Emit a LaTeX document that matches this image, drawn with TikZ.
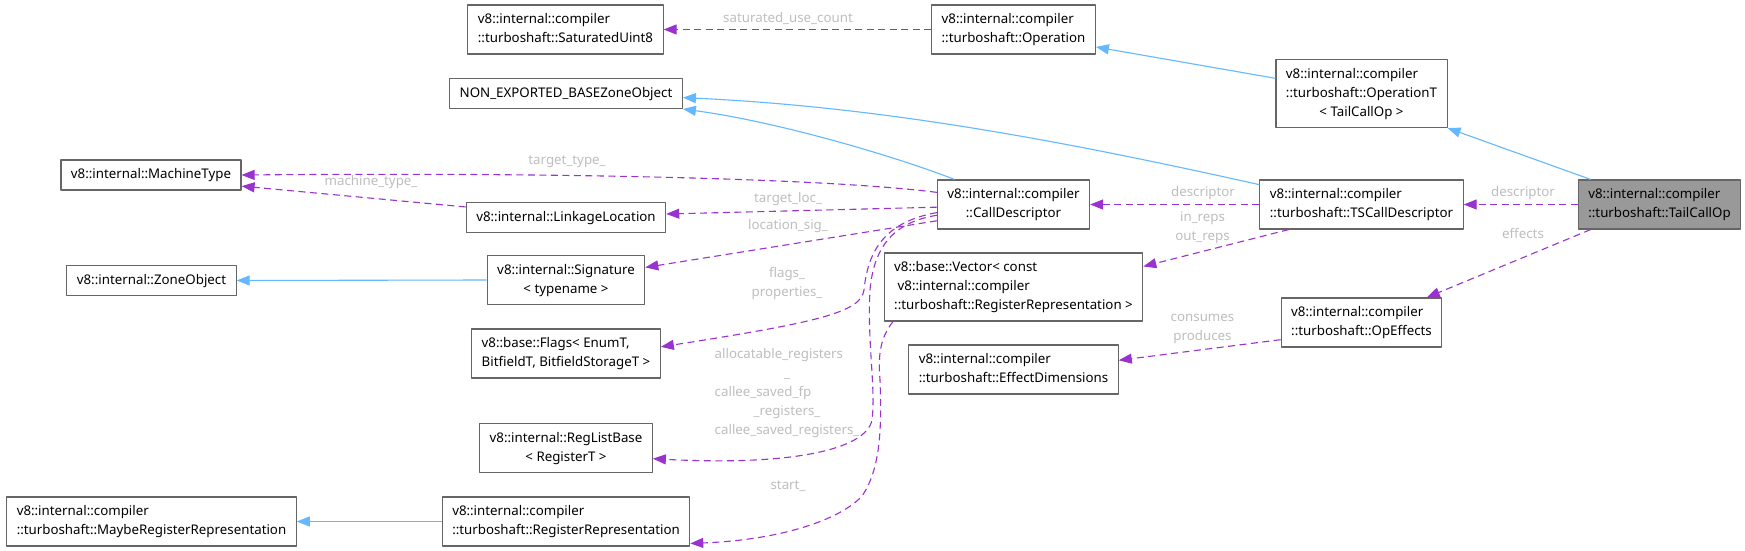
\documentclass[tikz,border=0pt]{standalone}
\usepackage{fontspec}
\setmainfont{Noto Sans}
\usetikzlibrary{arrows.meta}
\definecolor{dxpurple}{HTML}{9A32CD}
\definecolor{dxblue}{HTML}{63B8FF}
\definecolor{dxborder}{HTML}{666666}
\definecolor{dxlabel}{HTML}{BEBEBE}
\definecolor{dxfocus}{HTML}{999999}
\newcommand{\clsbox}[1]{\begin{tabular}{@{}l@{}}#1\end{tabular}}
\newcommand{\clsmid}[1]{\multicolumn{1}{@{}c@{}}{#1}}

\begin{document}
\begin{tikzpicture}[x=1pt, y=-1pt, line join=round,
  every node/.style={font=\fontsize{13.3}{19}\selectfont},
  cls/.style={draw=dxborder, line width=1.1pt, fill=white,
    inner xsep=10pt, inner ysep=5.5pt},
  focus/.style={cls, fill=dxfocus},
  lbl/.style={text=dxlabel, inner sep=0pt},
  uses/.style={draw=dxpurple, line width=1.1pt,
    dash pattern=on 7pt off 4.5pt, -{Triangle[length=13pt,width=10pt]}},
  isa/.style={draw=dxblue, line width=1.1pt,
    -{Triangle[length=13pt,width=10pt]}}]
  \path[use as bounding box] (0,0) rectangle (1745,551);
  \fill[white] (0,0) rectangle (1745,551);
  % grid in pixels of the reference: x to the right, y downwards
  \node[cls] (satuint) at (565.5,29.5)
    {\clsbox{v8::internal::compiler\\::turboshaft::SaturatedUint8}};
  \node[cls] (nonexp) at (566,93.5) {\clsbox{NON\_EXPORTED\_BASEZoneObject}};
  \node[cls] (machtype) at (151,175) {\clsbox{v8::internal::MachineType}};
  \node[cls] (linkloc) at (566,217.5) {\clsbox{v8::internal::LinkageLocation}};
  \node[cls] (signature) at (566,280)
    {\clsbox{v8::internal::Signature\\\clsmid{< typename >}}};
  \node[cls] (zoneobj) at (151.5,280.5) {\clsbox{v8::internal::ZoneObject}};
  \node[cls] (flags) at (566,353.5)
    {\clsbox{v8::base::Flags< EnumT,\\\clsmid{BitfieldT, BitfieldStorageT >}}};
  \node[cls] (reglist) at (566,448)
    {\clsbox{v8::internal::RegListBase\\\clsmid{< RegisterT >}}};
  \node[cls] (mayberep) at (151.5,521.5)
    {\clsbox{v8::internal::compiler\\::turboshaft::MaybeRegisterRepresentation}};
  \node[cls] (regrep) at (566,521.5)
    {\clsbox{v8::internal::compiler\\::turboshaft::RegisterRepresentation}};
  \node[cls] (opbase) at (1013.5,29.5)
    {\clsbox{v8::internal::compiler\\::turboshaft::Operation}};
  \node[cls] (calldesc) at (1013.5,204.5)
    {\clsbox{v8::internal::compiler\\\clsmid{::CallDescriptor}}};
  \node[cls] (vector) at (1013.5,287)
    {\clsbox{v8::base::Vector< const\\\ v8::internal::compiler\\::turboshaft::RegisterRepresentation >}};
  \node[cls] (effdim) at (1013.5,369.5)
    {\clsbox{v8::internal::compiler\\::turboshaft::EffectDimensions}};
  \node[cls] (opT) at (1361.5,93.5)
    {\clsbox{v8::internal::compiler\\::turboshaft::OperationT\\\clsmid{< TailCallOp >}}};
  \node[cls] (tscall) at (1361.5,204.5)
    {\clsbox{v8::internal::compiler\\::turboshaft::TSCallDescriptor}};
  \node[cls] (opeff) at (1361.5,322.5)
    {\clsbox{v8::internal::compiler\\::turboshaft::OpEffects}};
  \node[focus] (tailcall) at (1659.5,204.5)
    {\clsbox{v8::internal::compiler\\::turboshaft::TailCallOp}};
  % inheritance
  \draw[isa] (opT.170) -- (opbase.-12);
  \draw[isa] (tailcall.160) -- (opT.south east);
  \draw[isa] (tscall.169) .. controls (1059,140) and (882,107) .. (nonexp.-2);
  \draw[isa] (calldesc.157) .. controls (900,158) and (780,122)
    .. (nonexp.south east);
  \draw[isa] (signature.west) -- (zoneobj.east);
  \draw[isa] (regrep.west) -- (mayberep.east);
  % members
  \draw[uses] (opbase.west) -- (satuint.east);
  \draw[uses] (tailcall.west) -- (tscall.east);
  \draw[uses] (tailcall.200) -- (opeff.21);
  \draw[uses] (tscall.west) -- (calldesc.east);
  \draw[uses] (tscall.199) -- (vector.9);
  \draw[uses] (opeff.192) -- (effdim.5);
  \draw[uses] (calldesc.171) .. controls (840,180) and (600,172)
    .. (machtype.east);
  \draw[uses] (linkloc.174) -- (machtype.-7);
  \draw[uses] (calldesc.182) -- (linkloc.2);
  \draw[uses] (calldesc.192) -- (signature.9);
  \draw[uses] (calldesc.186) .. controls (885,222) and (868,250) .. (864,290)
    .. controls (861,312) and (820,322) .. (flags.4);
  \draw[uses] (calldesc.188) .. controls (895,222) and (874,245) .. (870,290)
    .. controls (867,340) and (876,390) .. (872,420)
    .. controls (866,450) and (790,466) .. (reglist.-7);
  \draw[uses] (vector.196) .. controls (880,338) and (878,355) .. (880,380)
    .. controls (882,430) and (880,470) .. (862,496)
    .. controls (840,520) and (780,540) .. (regrep.-10);
  % edge labels
  \node[lbl] (lsatcount) at (788,19) {\clsbox{saturated\_use\_count}};
  \node[lbl] (ltsdesc) at (1523,193) {\clsbox{descriptor}};
  \node[lbl] (leffects) at (1523,235) {\clsbox{effects}};
  \node[lbl] (lcalldesc) at (1203,193) {\clsbox{descriptor}};
  \node[lbl] (lreps) at (1202.5,227.5)
    {\clsbox{\clsmid{in\_reps}\\\clsmid{out\_reps}}};
  \node[lbl] (lcons) at (1202.5,327.5)
    {\clsbox{\clsmid{consumes}\\\clsmid{produces}}};
  \node[lbl] (ltgttype) at (567,161) {\clsbox{target\_type\_}};
  \node[lbl] (lmachtype) at (371,182) {\clsbox{machine\_type\_}};
  \node[lbl] (ltgtloc) at (788,199) {\clsbox{target\_loc\_}};
  \node[lbl] (llocsig) at (788,226) {\clsbox{location\_sig\_}};
  \node[lbl] (lflags) at (787,283)
    {\clsbox{\clsmid{flags\_}\\\clsmid{properties\_}}};
  \node[lbl] (lregs) at (787,393)
    {\clsbox{allocatable\_registers\\\clsmid{\_}\\callee\_saved\_fp\\
      \clsmid{\_registers\_}\\callee\_saved\_registers\_}};
  \node[lbl] (lstart) at (788,486) {\clsbox{start\_}};
\end{tikzpicture}
\end{document}
